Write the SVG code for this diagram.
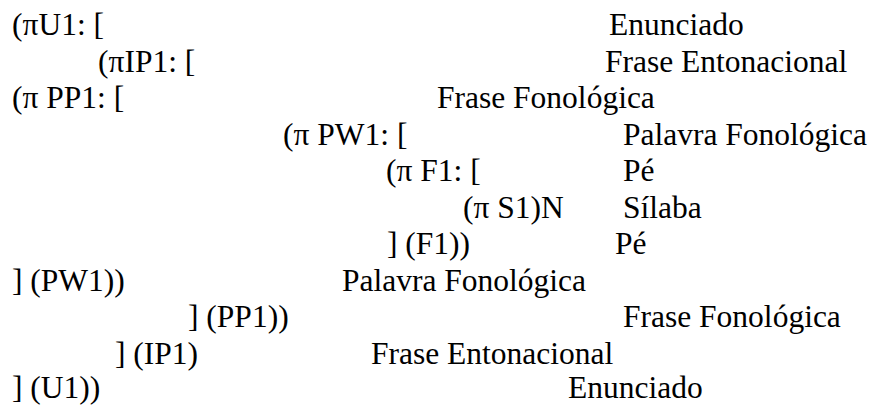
<svg xmlns="http://www.w3.org/2000/svg" width="869" height="405" viewBox="0 0 869 405">
<style>
.t { font-family: 'Liberation Serif', 'DejaVu Serif', serif; font-size: 31.5px; fill: #000; }
</style>
<rect width="869" height="405" fill="#fff"/>
<g class="t">
<g id="line1"><text x="12" y="35">(πU1: [</text><text x="609" y="35">Enunciado</text></g>
<g id="line2"><text x="98" y="71.5">(πIP1: [</text><text x="605" y="71.5">Frase Entonacional</text></g>
<g id="line3"><text x="12" y="108">(π PP1: [</text><text x="437" y="108">Frase Fonológica</text></g>
<g id="line4"><text x="283" y="144.5">(π PW1: [</text><text x="623" y="144.5">Palavra Fonológica</text></g>
<g id="line5"><text x="386" y="181">(π F1: [</text><text x="623" y="181">Pé</text></g>
<g id="line6"><text x="463" y="217.5">(π S1)N</text><text x="623" y="217.5">Sílaba</text></g>
<g id="line7"><text x="387" y="254">] (F1))</text><text x="615" y="254">Pé</text></g>
<g id="line8"><text x="12" y="290.5">] (PW1))</text><text x="342" y="290.5">Palavra Fonológica</text></g>
<g id="line9"><text x="188" y="327">] (PP1))</text><text x="623" y="327">Frase Fonológica</text></g>
<g id="line10"><text x="115" y="363.5">] (IP1)</text><text x="371" y="363.5">Frase Entonacional</text></g>
<g id="line11"><text x="12" y="398">] (U1))</text><text x="568" y="398">Enunciado</text></g>
</g>
</svg>
